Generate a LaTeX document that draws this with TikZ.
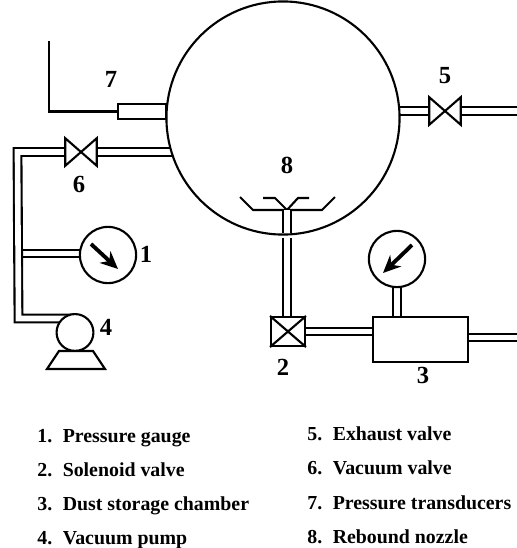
\documentclass[tikz,border=0pt]{standalone}
\usepackage{fontspec}
\setmainfont{Liberation Serif}
\usetikzlibrary{arrows.meta,backgrounds}
\tikzset{
  pipe/.style={double,double distance=3.2pt,line width=1.2pt},
  wall/.style={draw,line width=1.2pt},
  valve/.style={minimum width=31*0.567pt,minimum height=27*0.567pt,inner sep=0pt,fill=white},
  gauge/.style={wall,circle,fill=white,minimum size=32pt,inner sep=0pt},
  needle/.style={line width=2.2pt,-{Stealth[length=10pt,width=9pt]}},
  num/.style={font=\bfseries\fontsize{14}{14}\selectfont,inner sep=0pt},
  item/.style={font=\bfseries\fontsize{11.3}{12}\selectfont,anchor=base west,inner sep=0pt}
}
\begin{document}
\begin{tikzpicture}[x=0.02cm,y=-0.02cm]
\useasboundingbox (0,0) rectangle (517,548);
% main vessel and parts on it
\node[wall,circle,fill=white,minimum size=234*0.567pt,inner sep=0pt] (vessel) at (283,118) {};
\node[wall,minimum width=48*0.567pt,minimum height=15*0.567pt,inner sep=0pt,fill=white] (trans) at (142,111.5) {};
\coordinate (wiretop) at (49,41);
\draw[line width=1.2pt] (wiretop) |- (trans.west);
% valves
\node[valve] (v6) at (81,152) {};
\node[valve] (v5) at (445,111) {};
\draw[line width=1.2pt] (v6.north west) -- (v6.south east) -- (v6.north east) -- (v6.south west) -- cycle;
\draw[line width=1.2pt] (v5.north west) -- (v5.south east) -- (v5.north east) -- (v5.south west) -- cycle;
\node[wall,fill=white,minimum width=34*0.567pt,minimum height=29*0.567pt,inner sep=0pt] (v2) at (288,331.5) {};
\draw[line width=1.2pt] (v2.north west) -- (v2.south east);
\draw[line width=1.2pt] (v2.north east) -- (v2.south west);
% gauges, pump, chamber
\node[gauge] (g1) at (108,255) {};
\node[gauge] (g3) at (397,259) {};
\coordinate (n1a) at (91,244);
\coordinate (n1b) at (118,269);
\coordinate (n3a) at (412,245);
\coordinate (n3b) at (383,273);
\draw[needle] (n1a) -- (n1b);
\draw[needle] (n3a) -- (n3b);
\node[wall,circle,fill=white,minimum size=37*0.567pt,inner sep=0pt] (pump) at (75,332.5) {};
\draw[line width=1.2pt] (59,351) -- (93,351) -- (105,369) -- (47,369) -- cycle;
\node[wall,fill=white,minimum width=95*0.567pt,minimum height=45*0.567pt,inner sep=0pt] (chamber) at (420.5,339.5) {};
% nozzle
\coordinate (noz) at (287,210);
\coordinate (nozin) at (287,233);
\coordinate (nozout) at (287,238);
\draw[line width=1.2pt] (240,197) -- (253,210) -- (322,210) -- (335,197);
\draw[line width=1.2pt] (263,198) -- (275,198) -- (noz) -- (298,198) -- (309,198);
\draw[pipe] (noz) -- (nozin);
% pipes
\coordinate (outlet5) at (517,110.5);
\coordinate (outlet3) at (517,337.5);
\coordinate (cornera) at (17.5,152);
\coordinate (cornerb) at (18.5,318.5);
\coordinate (tee) at (18,253.5);
\begin{scope}[on background layer]
\draw[pipe] (tee) -- (g1.center |- tee);
\draw[pipe] (v6.center) -- (cornera) -- (cornerb) -- (pump.center |- cornerb);
\draw[pipe] (v6.center) -- (vessel.center |- v6.center);
\draw[pipe] (vessel.center |- v5.center) -- (v5.center);
\draw[pipe] (v5.center) -- (v5.center -| outlet5);
\draw[pipe] (nozout) -- (nozout |- v2.center);
\draw[pipe] (v2.center) -- (chamber.center |- v2.center);
\draw[pipe] (g3.center) -- (g3.center |- chamber.center);
\draw[pipe] (chamber.center |- outlet3) -- (outlet3);
\end{scope}
% numbers
\node[num] (l1) at (146,254) {1};
\node[num] (l2) at (283,367) {2};
\node[num] (l3) at (423,375) {3};
\node[num] (l4) at (106,327) {4};
\node[num] (l5) at (445,76) {5};
\node[num] (l6) at (79,184) {6};
\node[num] (l7) at (111,79) {7};
\node[num] (l8) at (287,165) {8};
% legend
\node[item] (t1) at (37,442) {1.\hspace{6pt}Pressure gauge};
\node[item] (t2) at (37,476) {2.\hspace{6pt}Solenoid valve};
\node[item] (t3) at (37,510) {3.\hspace{6pt}Dust storage chamber};
\node[item] (t4) at (37,544) {4.\hspace{6pt}Vacuum pump};
\node[item] (t5) at (307,440) {5.\hspace{6pt}Exhaust valve};
\node[item] (t6) at (307,474) {6.\hspace{6pt}Vacuum valve};
\node[item] (t7) at (307,509) {7.\hspace{6pt}Pressure transducers};
\node[item] (t8) at (307,543) {8.\hspace{6pt}Rebound nozzle};
\end{tikzpicture}
\end{document}
